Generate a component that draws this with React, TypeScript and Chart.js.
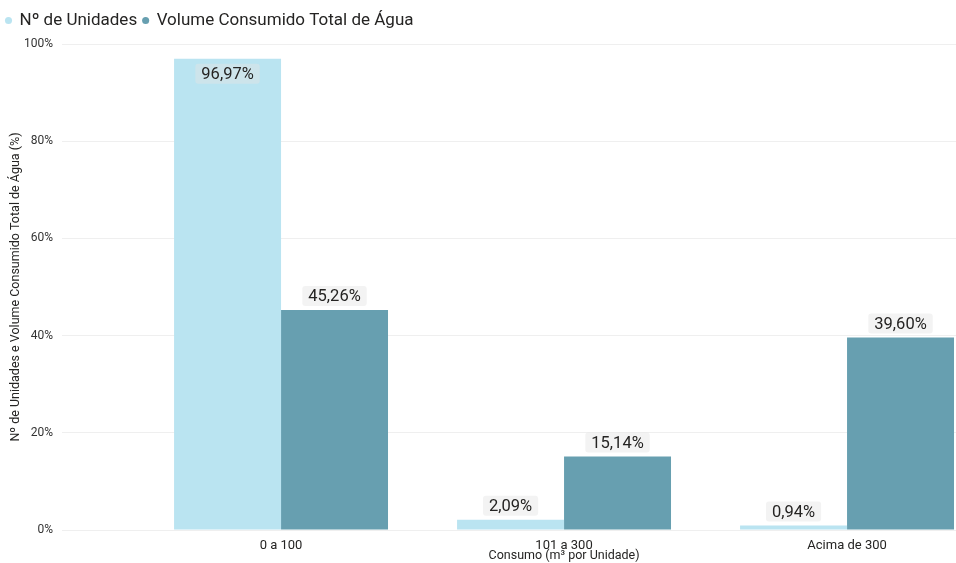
import React, { useEffect, useRef } from "react";
import { Chart, registerables } from "chart.js";
Chart.register(...registerables);

const categories = ["0 a 100", "101 a 300", "Acima de 300"];
const unidades = [96.97, 2.09, 0.94];
const volume = [45.26, 15.14, 39.6];
const seriesNames = ["Nº de Unidades", "Volume Consumido Total de Água"];
const yTickValues = [0, 20, 40, 60, 80, 100];
const xTitle = "Consumo (m³ por Unidade)";
const yTitle = "Nº de Unidades e Volume Consumido Total de Água (%)";

const LIGHT = "#BAE4F1";
const DARK = "#679FB0";
const FONT = "Roboto";

const fmt = (v: number) => v.toFixed(2).replace(".", ",") + "%";

const labelPlugin = {
  id: "barLabels",
  afterInit(chart: any) {
    const lg = chart.legend;
    if (lg) {
      const orig = lg.fit.bind(lg);
      lg.fit = () => {
        orig();
        lg.height += 5;
      };
    }
  },
  afterDatasetsDraw(chart: any) {
    const ctx = chart.ctx;
    const area = chart.chartArea;
    ctx.save();
    ctx.font = `16.5px ${FONT}`;
    ctx.textAlign = "center";
    ctx.textBaseline = "middle";
    chart.data.datasets.forEach((ds: any, di: number) => {
      const meta = chart.getDatasetMeta(di);
      meta.data.forEach((bar: any, i: number) => {
        const v = ds.data[i].y;
        const text = fmt(v);
        const w = ctx.measureText(text).width + 12;
        const h = 20;
        let top = bar.y - 4 - h;
        if (top < area.top) top = bar.y + 5;
        ctx.fillStyle = "rgba(228,228,228,0.45)";
        ctx.beginPath();
        (ctx as any).roundRect(bar.x - w / 2, top, w, h, 3);
        ctx.fill();
        ctx.fillStyle = "#252423";
        ctx.fillText(text, bar.x, top + h / 2 + 1);
      });
    });
    const xs = chart.scales.x;
    ctx.font = `12.5px ${FONT}`;
    ctx.fillStyle = "#252423";
    ctx.fillText(xTitle, xs.getPixelForValue(1), 556);
    ctx.restore();
  },
};

export default function App() {
  const ref = useRef<HTMLCanvasElement>(null);
  useEffect(() => {
    if (!ref.current) return;
    const chart = new Chart(ref.current, {
      type: "bar",
      data: {
        datasets: [
          {
            label: seriesNames[0],
            data: unidades.map((v, i) => ({ x: i, y: v })),
            backgroundColor: LIGHT,
            borderWidth: 0,
            categoryPercentage: 0.756,
            barPercentage: 1,
          },
          {
            label: seriesNames[1],
            data: volume.map((v, i) => ({ x: i, y: v })),
            backgroundColor: DARK,
            borderWidth: 0,
            categoryPercentage: 0.756,
            barPercentage: 1,
          },
        ],
      },
      options: {
        animation: false,
        responsive: true,
        maintainAspectRatio: false,
        layout: { padding: { top: 6, left: 0, right: 0, bottom: 0 } },
        plugins: {
          tooltip: { enabled: false },
          legend: {
            position: "top",
            align: "start",
            labels: {
              usePointStyle: true,
              pointStyle: "circle",
              boxWidth: 5,
              boxHeight: 5,
              padding: 6,
              color: "#252423",
              font: { family: FONT, size: 17 },
            },
          },
        },
        scales: {
          x: {
            type: "linear",
            min: -0.774,
            max: 2.385,
            offset: false,
            grid: { display: false, drawTicks: false },
            border: { display: false },
            afterBuildTicks: (s: any) => {
              s.ticks = categories.map((_, i) => ({ value: i }));
            },
            afterFit: (s: any) => {
              s.height = 33;
            },
            ticks: {
              autoSkip: false,
              maxRotation: 0,
              padding: 8,
              color: "#252423",
              font: { family: FONT, size: 13 },
              callback: (v: any) => categories[v] ?? "",
            },
          },
          y: {
            min: 0,
            max: 100,
            afterBuildTicks: (s: any) => {
              s.ticks = yTickValues.map((v) => ({ value: v }));
            },
            afterFit: (s: any) => {
              s.width = 62;
            },
            grid: { color: "#EFEFEF", drawTicks: false, lineWidth: 1 },
            border: { display: false },
            ticks: {
              padding: 9,
              color: "#333333",
              font: { family: FONT, size: 12 },
              callback: (v: any) => v + "%",
            },
            title: {
              display: true,
              text: yTitle,
              color: "#252423",
              font: { family: FONT, size: 12.5 },
              padding: { top: 8, bottom: 0 },
            },
          },
        },
      },
      plugins: [labelPlugin],
    });
    return () => chart.destroy();
  }, []);
  return (
    <div style={{ position: "absolute", left: 0, top: 0, width: 956, height: 563, background: "#fff" }}>
      <canvas ref={ref} />
    </div>
  );
}
